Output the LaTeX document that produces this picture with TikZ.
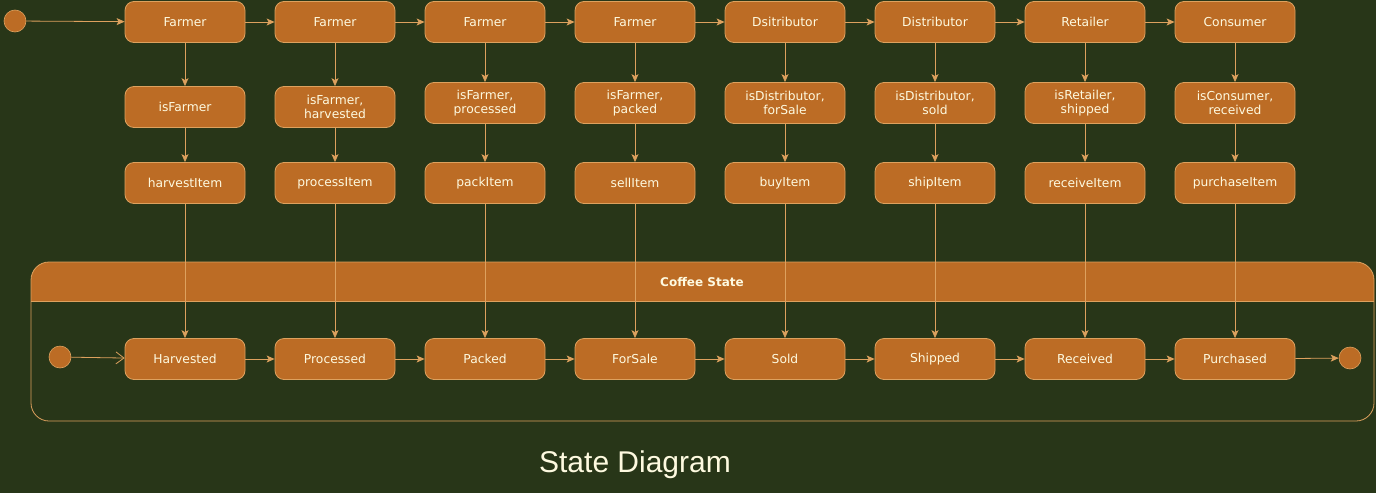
\documentclass[tikz,border=0pt]{standalone}
\usepackage{fontspec}
\setmainfont{DejaVu Sans}
\newfontfamily\titlefont{Liberation Sans}
\usetikzlibrary{arrows.meta}
\definecolor{bgc}{RGB}{40,54,24}
\definecolor{fillc}{RGB}{188,108,37}
\definecolor{linec}{RGB}{221,161,94}
\definecolor{txtc}{RGB}{254,250,224}
\begin{document}
\begin{tikzpicture}[x=1pt,y=-1pt,
  st/.style={draw=linec,fill=fillc,rounded corners=9pt,minimum width=120pt,minimum height=41pt,inner sep=0pt,text=txtc,font=\fontsize{12.3}{14.5}\selectfont,align=center,line width=0.8pt},
  dot/.style={circle,draw=linec,fill=fillc,minimum size=22pt,inner sep=0pt,line width=0.6pt},
  con/.style={draw=linec,line width=0.8pt,-{Stealth[length=8pt,width=7pt,inset=2pt]}},
  openc/.style={draw=linec,line width=0.8pt,-{Straight Barb[length=8pt,width=12pt]}}]
\fill[bgc] (0,0) rectangle (1376,493);
\useasboundingbox (0,0) rectangle (1376,493);
% container
\begin{scope}
\clip (31,262) rectangle (1374,301);
\fill[fillc,rounded corners=18pt] (31,262) rectangle (1374,421);
\end{scope}
\draw[linec,line width=0.8pt,rounded corners=18pt] (31,262) rectangle (1374,421);
\draw[linec,line width=0.8pt] (31,301) -- (1374,301);
\node[text=txtc,font=\fontsize{12}{14}\selectfont\bfseries] (ctitle) at (702,282) {Coffee State};
% top row
\node[dot] (s0) at (15,21) {};
\foreach \i/\x/\t in {1/185/Farmer,2/335/Farmer,3/485/Farmer,4/635/Farmer,5/785/Dsitributor,6/935/Distributor,7/1085/Retailer,8/1235/Consumer}{
  \node[st] (t\i) at (\x,22) {\t};
}
\node[st] (r1) at (185,107) {isFarmer};
\node[st] (r2) at (335,107) {isFarmer,\\harvested};
\node[st] (r3) at (485,103) {isFarmer,\\processed};
\node[st] (r4) at (635,103) {isFarmer,\\packed};
\node[st] (r5) at (785,103) {isDistributor,\\forSale};
\node[st] (r6) at (935,103) {isDistributor,\\sold};
\node[st] (r7) at (1085,103) {isRetailer,\\shipped};
\node[st] (r8) at (1235,103) {isConsumer,\\received};
\foreach \i/\x/\t in {1/185/harvestItem,2/335/processItem,3/485/packItem,4/635/sellItem,5/785/buyItem,6/935/shipItem,7/1085/receiveItem,8/1235/purchaseItem}{
  \node[st] (f\i) at (\x,183) {\t};
}
\foreach \i/\x/\t in {1/185/Harvested,2/335/Processed,3/485/Packed,4/635/ForSale,5/785/Sold,6/935/Shipped,7/1085/Received,8/1235/Purchased}{
  \node[st] (b\i) at (\x,359) {\t};
}
\node[dot] (bs) at (60,357) {};
\node[dot] (be) at (1350,358) {};
% edges
\draw[con] (s0) -- (t1);
\foreach \a/\b in {1/2,2/3,3/4,4/5,5/6,6/7,7/8}{
  \draw[con] (t\a) -- (t\b);
  \draw[con] (b\a) -- (b\b);
}
\foreach \i in {1,...,8}{
  \draw[con] (t\i) -- (r\i);
  \draw[con] (r\i) -- (f\i);
  \draw[con] (f\i) -- (b\i);
}
\draw[openc] (bs) -- (b1);
\draw[con] (b8) -- (be);
\node[text=txtc,font=\titlefont\fontsize{30}{33}\selectfont] (title) at (635,465) {State Diagram};
\end{tikzpicture}
\end{document}
